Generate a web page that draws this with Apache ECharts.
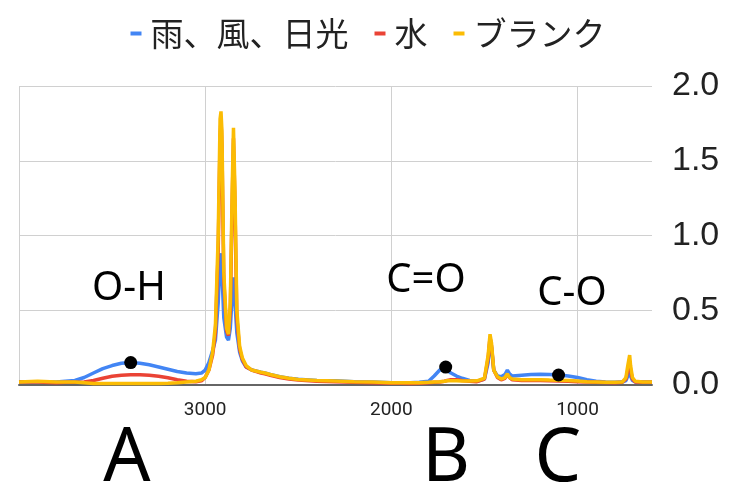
<!DOCTYPE html>
<html>
<head>
<meta charset="utf-8">
<script src="https://cdn.jsdelivr.net/npm/echarts@6/dist/echarts.min.js"></script>
<style>
  html, body { margin: 0; padding: 0; background: #fff; }
  #chart { width: 736px; height: 490px; }
</style>
</head>
<body>
<div id="chart"></div>
<script>
// 波数 (cm-1)
const wavenumbers = [4000, 3900, 3800, 3750, 3700, 3650, 3600, 3550, 3500, 3450, 3400, 3350, 3300, 3250, 3200, 3150, 3100, 3050, 3020, 3000,
  2980, 2960, 2945, 2930, 2920, 2915, 2910, 2900, 2885, 2875, 2865, 2855, 2848, 2840, 2830, 2815, 2800, 2780, 2750, 2700,
  2680, 2650, 2600, 2550, 2500, 2400, 2300, 2200, 2100, 2000, 1950, 1900, 1850, 1800, 1770, 1740, 1715, 1700, 1680, 1650,
  1620, 1580, 1540, 1500, 1480, 1470, 1462, 1450, 1430, 1410, 1390, 1377, 1365, 1350, 1300, 1250, 1200, 1150, 1100, 1050,
  1000, 950, 900, 850, 800, 760, 740, 730, 720, 715, 705, 690, 650, 600]
// 雨、風、日光
const blueVals = [0.02, 0.02, 0.02, 0.025, 0.03, 0.05, 0.08, 0.11, 0.13, 0.145, 0.15, 0.145, 0.135, 0.12, 0.105, 0.09, 0.08, 0.075, 0.08, 0.1,
  0.15, 0.23, 0.3, 0.55, 0.85, 0.88, 0.75, 0.45, 0.32, 0.3, 0.38, 0.6, 0.72, 0.55, 0.35, 0.22, 0.16, 0.12, 0.1, 0.085,
  0.08, 0.07, 0.055, 0.045, 0.038, 0.03, 0.028, 0.022, 0.02, 0.015, 0.015, 0.015, 0.018, 0.025, 0.06, 0.1, 0.125, 0.1, 0.08, 0.06,
  0.045, 0.03, 0.025, 0.04, 0.15, 0.3, 0.25, 0.1, 0.06, 0.055, 0.07, 0.1, 0.075, 0.06, 0.065, 0.07, 0.072, 0.07, 0.067, 0.06,
  0.05, 0.035, 0.025, 0.02, 0.018, 0.02, 0.03, 0.06, 0.08, 0.06, 0.03, 0.02, 0.02, 0.02]
// 水
const redVals = [0.02, 0.02, 0.015, 0.018, 0.018, 0.02, 0.03, 0.045, 0.058, 0.065, 0.068, 0.068, 0.065, 0.058, 0.048, 0.035, 0.025, 0.022, 0.028, 0.05,
  0.1, 0.2, 0.35, 0.9, 1.65, 1.78, 1.6, 0.7, 0.36, 0.33, 0.5, 1.2, 1.65, 1.2, 0.45, 0.24, 0.17, 0.12, 0.1, 0.08,
  0.075, 0.065, 0.05, 0.04, 0.033, 0.025, 0.022, 0.018, 0.015, 0.012, 0.012, 0.01, 0.012, 0.015, 0.018, 0.02, 0.025, 0.03, 0.035, 0.035,
  0.03, 0.025, 0.022, 0.04, 0.18, 0.32, 0.26, 0.1, 0.05, 0.035, 0.045, 0.07, 0.05, 0.035, 0.03, 0.03, 0.03, 0.028, 0.027, 0.025,
  0.022, 0.02, 0.018, 0.016, 0.015, 0.018, 0.04, 0.1, 0.15, 0.1, 0.04, 0.02, 0.018, 0.018]
// ブランク
const yellowVals = [0.02, 0.025, 0.02, 0.02, 0.02, 0.015, 0.01, 0.01, 0.01, 0.01, 0.01, 0.01, 0.01, 0.01, 0.012, 0.015, 0.02, 0.025, 0.035, 0.05,
  0.1, 0.22, 0.4, 1.0, 1.78, 1.83, 1.7, 0.75, 0.38, 0.34, 0.55, 1.3, 1.72, 1.3, 0.5, 0.26, 0.18, 0.13, 0.1, 0.085,
  0.08, 0.07, 0.055, 0.045, 0.037, 0.03, 0.027, 0.022, 0.02, 0.015, 0.015, 0.015, 0.015, 0.018, 0.02, 0.022, 0.025, 0.028, 0.028, 0.028,
  0.027, 0.027, 0.028, 0.045, 0.2, 0.34, 0.28, 0.1, 0.055, 0.04, 0.05, 0.075, 0.05, 0.04, 0.035, 0.035, 0.035, 0.033, 0.032, 0.03,
  0.027, 0.022, 0.02, 0.018, 0.018, 0.02, 0.05, 0.13, 0.2, 0.13, 0.05, 0.025, 0.02, 0.02]
const seriesNames = ['雨、風、日光', '水', 'ブランク']
// 黒い点 (波数, 吸光度)
const dotWavenumbers = [3400, 1708, 1102]
const dotVals = [0.15, 0.12, 0.067]
const xTickLabels = [3000, 2000, 1000]

// 横軸は右向きに波数が減るので、負の値で持つ
function toPairs (vals) {
  return wavenumbers.map((w, i) => [-w, vals[i]])
}

let myChart = echarts.init(document.getElementById('chart'))
let lineStyleOf = (color) => ({ color: color, width: 3.5 })
let option = {
  animation: false,
  color: ['#4285F4', '#EA4335', '#FBBC04'],
  legend: {
    data: seriesNames,
    top: 12,
    left: 'center',
    icon: 'rect',
    itemWidth: 11,
    itemHeight: 4,
    itemGap: 26,
    textStyle: {
      fontFamily: 'Noto Sans CJK JP',
      fontSize: 33,
      color: '#222',
      padding: [0, 0, 0, 4]
    }
  },
  grid: {
    left: 19,
    right: 84,
    top: 86,
    bottom: 105
  },
  xAxis: {
    type: 'value',
    min: -4000,
    max: -600,
    interval: 1000,
    axisLine: { lineStyle: { color: '#666', width: 2 } },
    axisTick: { show: false },
    splitLine: {
      show: true,
      showMaxLine: false,
      lineStyle: { color: '#d0d0d0', width: 1 }
    },
    axisLabel: {
      margin: 16,
      fontFamily: 'Roboto',
      fontSize: 19,
      color: '#222',
      formatter: function (v) {
        return xTickLabels.indexOf(-v) >= 0 ? String(-v) : ''
      }
    }
  },
  yAxis: {
    type: 'value',
    position: 'right',
    min: 0,
    max: 2,
    interval: 0.5,
    axisLine: { show: false },
    axisTick: { show: false },
    splitLine: { lineStyle: { color: '#d0d0d0', width: 1 } },
    axisLabel: {
      margin: 20,
      fontFamily: 'Liberation Sans',
      fontSize: 34,
      color: '#222',
      formatter: v => v.toFixed(1)
    }
  },
  series: [
    { name: seriesNames[0], type: 'line', showSymbol: false, data: toPairs(blueVals), lineStyle: lineStyleOf('#4285F4') },
    { name: seriesNames[1], type: 'line', showSymbol: false, data: toPairs(redVals), lineStyle: lineStyleOf('#EA4335') },
    { name: seriesNames[2], type: 'line', showSymbol: false, data: toPairs(yellowVals), lineStyle: lineStyleOf('#FBBC04') },
    {
      name: 'dots',
      type: 'scatter',
      symbolSize: 13,
      itemStyle: { color: '#000', opacity: 1 },
      data: dotWavenumbers.map((w, i) => [-w, dotVals[i]]),
      z: 5
    }
  ],
  graphic: [
    { type: 'text', z: 10, style: { x: 129, y: 289, text: 'O-H', font: '40px "Noto Sans"', fill: '#000', textAlign: 'center', textVerticalAlign: 'middle' } },
    { type: 'text', z: 10, style: { x: 426, y: 281, text: 'C=O', font: '40px "Noto Sans"', fill: '#000', textAlign: 'center', textVerticalAlign: 'middle' } },
    { type: 'text', z: 10, style: { x: 572, y: 294, text: 'C-O', font: '40px "Noto Sans"', fill: '#000', textAlign: 'center', textVerticalAlign: 'middle' } },
    { type: 'text', z: 10, style: { x: 127, y: 460, text: 'A', font: '74px "Noto Sans"', fill: '#000', textAlign: 'center', textVerticalAlign: 'middle' } },
    { type: 'text', z: 10, style: { x: 446, y: 460, text: 'B', font: '74px "Noto Sans"', fill: '#000', textAlign: 'center', textVerticalAlign: 'middle' } },
    { type: 'text', z: 10, style: { x: 558, y: 460, text: 'C', font: '74px "Noto Sans"', fill: '#000', textAlign: 'center', textVerticalAlign: 'middle' } }
  ]
}
myChart.setOption(option, true)
window.addEventListener('resize', function () {
  myChart.resize()
})
</script>
</body>
</html>
